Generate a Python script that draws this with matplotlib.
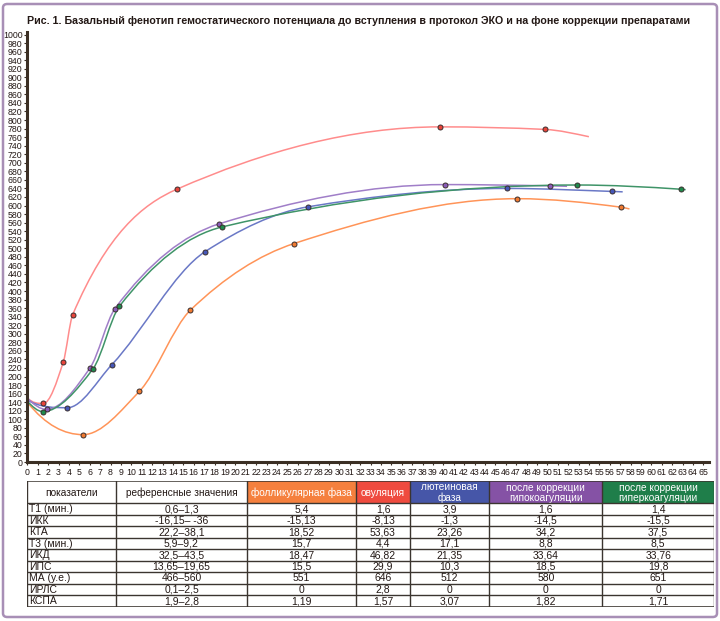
import matplotlib
matplotlib.use("Agg")
import numpy as np
import matplotlib.pyplot as plt
from matplotlib.path import Path
from matplotlib.patches import PathPatch, Rectangle, FancyBboxPatch

plt.rcParams['font.family'] = ['Liberation Sans', 'DejaVu Sans']

# curve data: first and last points are unmarked line ends
fol_x = [0, 5.36, 10.77, 15.67, 25.64, 47.1, 57.1, 57.9]
fol_y = [140, 64, 165, 355, 511, 616, 596, 592]
ovu_x = [0, 1.54, 3.46, 4.37, 14.37, 39.7, 49.8, 54.0]
ovu_y = [150, 137, 234, 345, 638, 784, 778, 761]
lut_x = [0, 3.85, 8.14, 17.09, 27.0, 46.1, 56.2, 57.25]
lut_y = [145, 127, 228, 492, 597, 640, 633, 632]
hypo_x = [0, 1.86, 6.03, 8.43, 18.43, 40.2, 50.26, 51.9]
hypo_y = [150, 123, 220, 359, 557, 649, 646, 645]
hyper_x = [0, 1.48, 6.32, 8.85, 18.75, 52.85, 62.9, 63.3]
hyper_y = [142, 118, 218, 364, 550, 648, 638, 637]

title = ("Рис. 1. Базальный фенотип гемостатического потенциала до вступления "
         "в протокол ЭКО и на фоне коррекции препаратами")

col_headers = ["показатели", "референсные значения", "фолликулярная фаза", "овуляция",
               "лютеиновая\nфаза", "после коррекции\nгипокоагуляции",
               "после коррекции\nгиперкоагуляции"]
row_names = ["Т1 (мин.)", "ИКК", "КТА", "Т3 (мин.)", "ИКД", "ИПС", "МА (у.е.)", "ИРЛС", "КСПА"]
ref_vals = ["0,6–1,3", "-16,15– -36", "22,2–38,1", "5,9–9,2", "32,5–43,5",
            "13,65–19,65", "466–560", "0,1–2,5", "1,9–2,8"]
fol_vals = ["5,4", "-15,13", "18,52", "15,7", "18,47", "15,5", "551", "0", "1,19"]
ovu_vals = ["1,6", "-8,13", "53,63", "4,4", "46,82", "29,9", "646", "2,8", "1,57"]
lut_vals = ["3,9", "-1,3", "23,26", "17,1", "21,35", "10,3", "512", "0", "3,07"]
hypo_vals = ["1,6", "-14,5", "34,2", "8,8", "33,64", "18,5", "580", "0", "1,82"]
hyper_vals = ["1,4", "-15,5", "37,5", "8,5", "33,76", "19,8", "651", "0", "1,71"]


def pchip_slopes(x, y):
    h = np.diff(x)
    d = np.diff(y) / h
    n = len(x)
    m = np.zeros(n)
    for k in range(1, n - 1):
        if d[k - 1] * d[k] > 0:
            w1 = 2 * h[k] + h[k - 1]
            w2 = h[k] + 2 * h[k - 1]
            m[k] = (w1 + w2) / (w1 / d[k - 1] + w2 / d[k])
    # end slopes
    for k, (h0, h1, d0, d1) in [(0, (h[0], h[1], d[0], d[1])),
                                (n - 1, (h[-1], h[-2], d[-1], d[-2]))]:
        s = ((2 * h0 + h1) * d0 - h0 * d1) / (h0 + h1)
        if np.sign(s) != np.sign(d0):
            s = 0
        elif np.sign(d0) != np.sign(d1) and abs(s) > 3 * abs(d0):
            s = 3 * d0
        m[k] = s
    return m


def smooth_path(xs, ys):
    """monotone cubic through the points, as bezier segments"""
    x = np.asarray(xs, float)
    y = np.asarray(ys, float)
    m = pchip_slopes(x, y)
    verts = [(x[0], y[0])]
    codes = [Path.MOVETO]
    for i in range(len(x) - 1):
        h = x[i + 1] - x[i]
        verts += [(x[i] + h / 3, y[i] + m[i] * h / 3),
                  (x[i + 1] - h / 3, y[i + 1] - m[i + 1] * h / 3),
                  (x[i + 1], y[i + 1])]
        codes += [Path.CURVE4] * 3
    return Path(verts, codes)


fig = plt.figure(figsize=(7.2, 6.21), dpi=100)

# outer frame
fig.patches.append(FancyBboxPatch((3 / 720, 4 / 621), 714 / 720, 613 / 621,
                                  boxstyle="round,pad=0,rounding_size=0.006",
                                  transform=fig.transFigure, fill=False,
                                  edgecolor="#a88fb6", linewidth=1.8))

fig.text(27 / 720, 1 - 20.5 / 621, title, fontsize=7.7, fontweight="bold",
         color="#231815", va="center", ha="left")

ax = fig.add_axes([27.3 / 720, 159 / 621, 681.2 / 720, 429.6 / 621])
ax.set_xlim(0, 65.5)
ax.set_ylim(0, 1005)

series = [
    (fol_x, fol_y, "#ff9458", "#f07a30"),
    (ovu_x, ovu_y, "#ff8c8c", "#e8443a"),
    (lut_x, lut_y, "#6a78c6", "#4657b8"),
    (hypo_x, hypo_y, "#a07ec8", "#8a5cb8"),
    (hyper_x, hyper_y, "#3f9468", "#1f8a4c"),
]
for xs, ys, lc, mc in series:
    ax.add_patch(PathPatch(smooth_path(xs, ys), facecolor="none", edgecolor=lc,
                           linewidth=1.1, zorder=2))
    ax.plot(xs[1:-1], ys[1:-1], "o", markersize=3.6, markerfacecolor=mc,
            markeredgecolor="#3a2e2e", markeredgewidth=0.7, zorder=3)

for s in ["top", "right"]:
    ax.spines[s].set_visible(False)
for s in ["left", "bottom"]:
    ax.spines[s].set_linewidth(2.2)
    ax.spines[s].set_color("#3b2f24")

ax.set_yticks(np.arange(0, 1001, 20))
ax.set_xticks(np.arange(0, 66, 1))
ax.tick_params(axis="both", direction="out", length=2.5, width=0.8, color="#3b2f24",
               labelsize=6.3, pad=1, labelcolor="#231815")
ax.tick_params(axis="x", pad=2)

# table
edges = [27.3, 115.7, 247.3, 356, 410, 489.3, 602.3, 714]
head_colors = ["white", "white", "#f5803e", "#ef4b3f", "#4656a8", "#8552a5", "#1f7e4a"]
head_h = 22.3
row_h = 11.49
tab = fig.add_axes([27.3 / 720, (621 - 606.7) / 621, (714 - 27.3) / 720, 125.7 / 621])
tab.set_xlim(edges[0], edges[-1])
tab.set_ylim(head_h + row_h * len(row_names), 0)
tab.axis("off")

for j, (h, c) in enumerate(zip(col_headers, head_colors)):
    tab.add_patch(Rectangle((edges[j], 0), edges[j + 1] - edges[j], head_h,
                            facecolor=c, edgecolor="none", zorder=1))
    tc = "#231815" if c == "white" else "white"
    tab.text((edges[j] + edges[j + 1]) / 2, head_h / 2 + 0.5, h, ha="center", va="center",
             fontsize=7.3, color=tc, linespacing=1.0, zorder=3)

columns = [row_names, ref_vals, fol_vals, ovu_vals, lut_vals, hypo_vals, hyper_vals]
for j, col in enumerate(columns):
    for i, v in enumerate(col):
        yc = head_h + row_h * (i + 0.5) + 0.4
        if j == 0:
            tab.text(edges[0] + 2, yc, v, ha="left", va="center", fontsize=7.5,
                     color="#231815", zorder=3)
        else:
            tab.text((edges[j] + edges[j + 1]) / 2, yc, v, ha="center", va="center",
                     fontsize=7.5, color="#231815", zorder=3)

line_c = "#3b3530"
total_h = head_h + row_h * len(row_names)
for i in range(len(row_names) + 1):
    yl = head_h + row_h * i
    tab.plot([edges[0], edges[-1]], [yl, yl], color=line_c, linewidth=1.0, zorder=4)
for e in edges:
    tab.plot([e, e], [0, total_h], color=line_c, linewidth=1.0, zorder=4)
tab.plot([edges[0], edges[-1]], [0, 0], color=line_c, linewidth=1.1, zorder=4)
tab.plot([edges[0], edges[-1]], [total_h, total_h], color=line_c, linewidth=1.1, zorder=4)

fig.savefig("out.png", dpi=100)
